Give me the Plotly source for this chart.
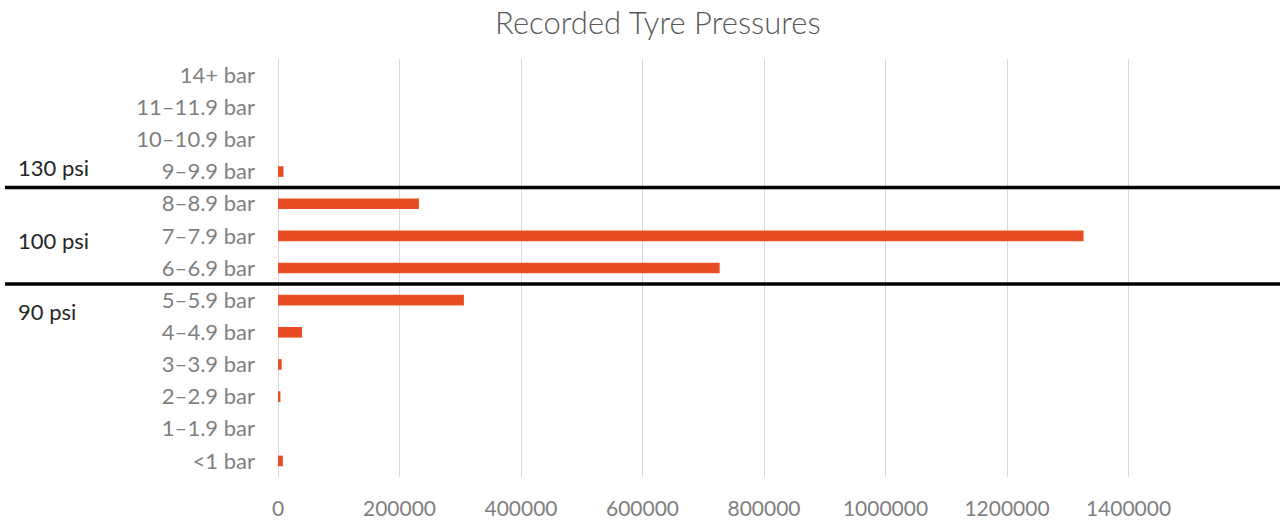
import plotly.graph_objects as go

# Pressure bands, bottom to top
categories = ["<1 bar", "1–1.9 bar", "2–2.9 bar", "3–3.9 bar", "4–4.9 bar",
              "5–5.9 bar", "6–6.9 bar", "7–7.9 bar", "8–8.9 bar", "9–9.9 bar",
              "10–10.9 bar", "11–11.9 bar", "14+ bar"]
counts = [8000, 0, 4000, 6000, 39500, 306000, 727000, 1326000, 232000,
          9000, 0, 0, 0]
x_ticks = [0, 200000, 400000, 600000, 800000, 1000000, 1200000, 1400000]

# psi groupings: label, position (category index) of the label
psi_labels = ["130 psi", "100 psi", "90 psi"]
psi_pos = [9.12, 6.85, 4.65]
# separators between groups (between category indices)
separators = [8.5, 5.5]

font = "Lato"
grey = "#7f7f7f"

fig = go.Figure(go.Bar(
    y=categories, x=counts, orientation="h",
    marker=dict(color="#E84C22", line=dict(width=0)),
    width=0.33,
))

L, R, T, B = 278, 30, 59, 46
W, H = 1280, 523
plot_w = W - L - R

fig.update_layout(
    width=W, height=H,
    margin=dict(l=L, r=R, t=T, b=B),
    plot_bgcolor="white", paper_bgcolor="white",
    title=dict(text="Recorded Tyre Pressures", x=0.514, xanchor="center",
               y=1 - 23 / H, yanchor="middle",
               font=dict(family=font, size=31, color="#595959", weight=300)),
    showlegend=False,
    font=dict(family=font, size=22, color=grey),
)
fig.update_xaxes(
    range=[0, 1600000], tickvals=x_ticks, ticktext=[str(v) for v in x_ticks],
    showgrid=True, gridcolor="#d9d9d9", gridwidth=1,
    zeroline=True, zerolinecolor="#d9d9d9", zerolinewidth=1,
    showline=False, ticks="", ticklabelstandoff=17, automargin=False,
    tickfont=dict(family=font, size=21, color=grey),
)
fig.update_yaxes(
    categoryorder="array", categoryarray=categories,
    range=[-0.5, len(categories) - 0.5],
    showgrid=False, zeroline=False, showline=False, ticks="",
    ticklabelstandoff=22, automargin=False,
    tickfont=dict(family=font, size=22, color=grey),
)

x0 = (5 - L) / plot_w
x1 = (W - L) / plot_w
for s in separators:
    fig.add_shape(type="line", xref="paper", yref="y", x0=x0, x1=x1,
                  y0=s, y1=s, line=dict(color="black", width=3.5))

for lab, p in zip(psi_labels, psi_pos):
    fig.add_annotation(text=lab, xref="paper", yref="y",
                       x=(16 - L) / plot_w, y=p, xanchor="left",
                       yanchor="middle", showarrow=False,
                       font=dict(family=font, size=22, color="#262626"))

fig.write_html("out.html")
